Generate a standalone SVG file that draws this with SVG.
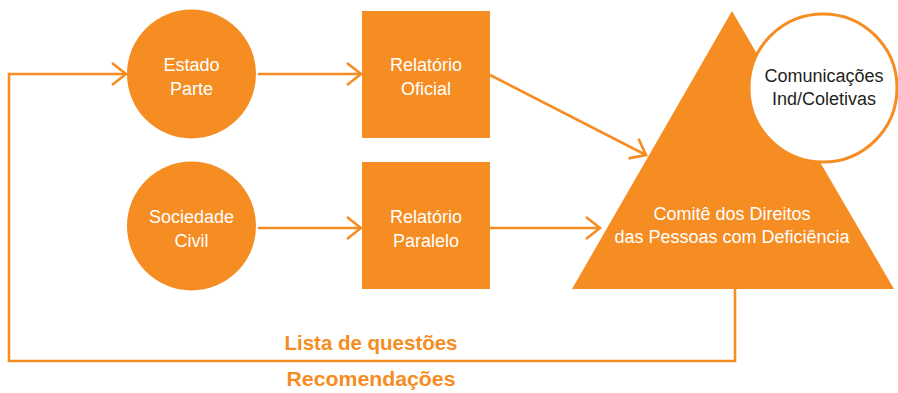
<svg xmlns="http://www.w3.org/2000/svg" width="898" height="393" viewBox="0 0 898 393">
<style>
.n{fill:#F58D23}
.t{font-family:"Liberation Sans",Arial,sans-serif;font-size:18px;fill:#fff;text-anchor:middle}
.d{fill:#231F20}
.b{font-family:"Liberation Sans",Arial,sans-serif;font-size:20px;font-weight:bold;fill:#F58D23;text-anchor:middle}
.c{fill:none;stroke:#F58D23;stroke-width:2.6}
</style>
<defs>
<marker id="ah" markerUnits="userSpaceOnUse" markerWidth="40" markerHeight="40" viewBox="-20 -20 40 40" refX="0" refY="0" orient="auto">
<path d="M-14,-11 L0,0 L-14,11" fill="none" stroke="#F58D23" stroke-width="2.6"/>
</marker>
</defs>
<g id="connectors">
<path class="c" d="M735,289 V361 H9 V74 H126" marker-end="url(#ah)"/>
<line class="c" x1="258" y1="74" x2="361" y2="74" marker-end="url(#ah)"/>
<line class="c" x1="258" y1="228" x2="361" y2="228" marker-end="url(#ah)"/>
<line class="c" x1="490" y1="75" x2="646" y2="155" marker-end="url(#ah)"/>
<line class="c" x1="490" y1="228" x2="600" y2="228" marker-end="url(#ah)"/>
</g>
<g id="estado-parte">
<circle class="n" cx="191.5" cy="74" r="64.5"/>
<text class="t" x="191.5" y="71">Estado</text>
<text class="t" x="191.5" y="95">Parte</text>
</g>
<g id="relatorio-oficial">
<rect class="n" x="362" y="11" width="128" height="127"/>
<text class="t" x="426" y="71">Relatório</text>
<text class="t" x="426" y="95">Oficial</text>
</g>
<g id="sociedade-civil">
<circle class="n" cx="191.5" cy="226" r="64.5"/>
<text class="t" x="191.5" y="223">Sociedade</text>
<text class="t" x="191.5" y="247">Civil</text>
</g>
<g id="relatorio-paralelo">
<rect class="n" x="362" y="162" width="128" height="127"/>
<text class="t" x="426" y="223">Relatório</text>
<text class="t" x="426" y="247">Paralelo</text>
</g>
<g id="comite">
<polygon class="n" points="732,11 894,289 572,289"/>
<text class="t" x="732" y="220">Comitê dos Direitos</text>
<text class="t" x="732" y="243">das Pessoas com Deficiência</text>
</g>
<g id="comunicacoes">
<circle cx="823" cy="88" r="74" fill="#fff" stroke="#F58D23" stroke-width="3"/>
<text class="t d" x="824" y="82">Comunicações</text>
<text class="t d" x="824" y="105">Ind/Coletivas</text>
</g>
<g id="labels">
<text class="b" x="371" y="350" textLength="173" lengthAdjust="spacingAndGlyphs">Lista de questões</text>
<text class="b" x="371" y="386" textLength="169" lengthAdjust="spacingAndGlyphs">Recomendações</text>
</g>
</svg>
